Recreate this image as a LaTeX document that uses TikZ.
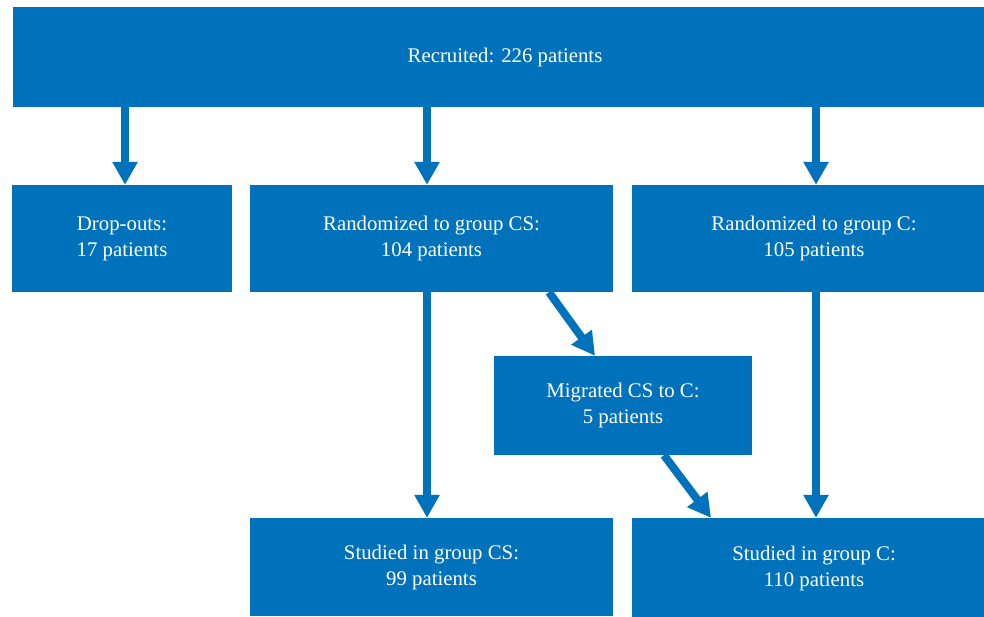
\documentclass[tikz,border=0pt]{standalone}
\usepackage{fontspec}
\setmainfont{Liberation Serif}
\usetikzlibrary{arrows.meta,calc}
\definecolor{boxblue}{RGB}{0,114,187}
\begin{document}
\begin{tikzpicture}[x=1pt,y=-1pt,
  box/.style={fill=boxblue,text=white,draw=none,inner sep=0pt,align=center,
    font=\fontsize{20.8}{26}\selectfont},
  arr/.style={draw=boxblue,line width=8pt,-{Triangle[width=24pt,length=23pt]}}]
\useasboundingbox (0,0) rectangle (984,616);
\node[box,minimum width=984pt,minimum height=100pt] (top) at (505,57) {Recruited: 226 patients};
\node[box,minimum width=220pt,minimum height=107pt] (drop) at (122,238.5) {Drop-outs:\\17 patients};
\node[box,minimum width=363pt,minimum height=107pt] (rcs) at (431.5,238.5) {Randomized to group CS:\\104 patients};
\node[box,minimum width=364pt,minimum height=107pt] (rc) at (814,238.5) {Randomized to group C:\\105 patients};
\node[box,minimum width=258pt,minimum height=99pt] (mig) at (623,405.5) {Migrated CS to C:\\5 patients};
\node[box,minimum width=363pt,minimum height=98pt] (scs) at (431.5,567) {Studied in group CS:\\99 patients};
\node[box,minimum width=364pt,minimum height=100pt] (sc) at (814,568) {Studied in group C:\\110 patients};
\draw[arr] ([xshift=3pt]drop.north |- top.south) -- ([xshift=3pt]drop.north);
\draw[arr] ([xshift=-4.5pt]rcs.north |- top.south) -- ([xshift=-4.5pt]rcs.north);
\draw[arr] ([xshift=2pt]rc.north |- top.south) -- ([xshift=2pt]rc.north);
\draw[arr] ([xshift=-4.5pt]rcs.south) -- ([xshift=-4.5pt]scs.north);
\draw[arr] ([xshift=2pt]rc.south) -- ([xshift=2pt]sc.north);
\draw[arr] ([xshift=117.5pt]rcs.south) -- ([xshift=-28pt]mig.north);
\draw[arr] ([xshift=41pt]mig.south) -- ([xshift=-103pt]sc.north);
\end{tikzpicture}
\end{document}
